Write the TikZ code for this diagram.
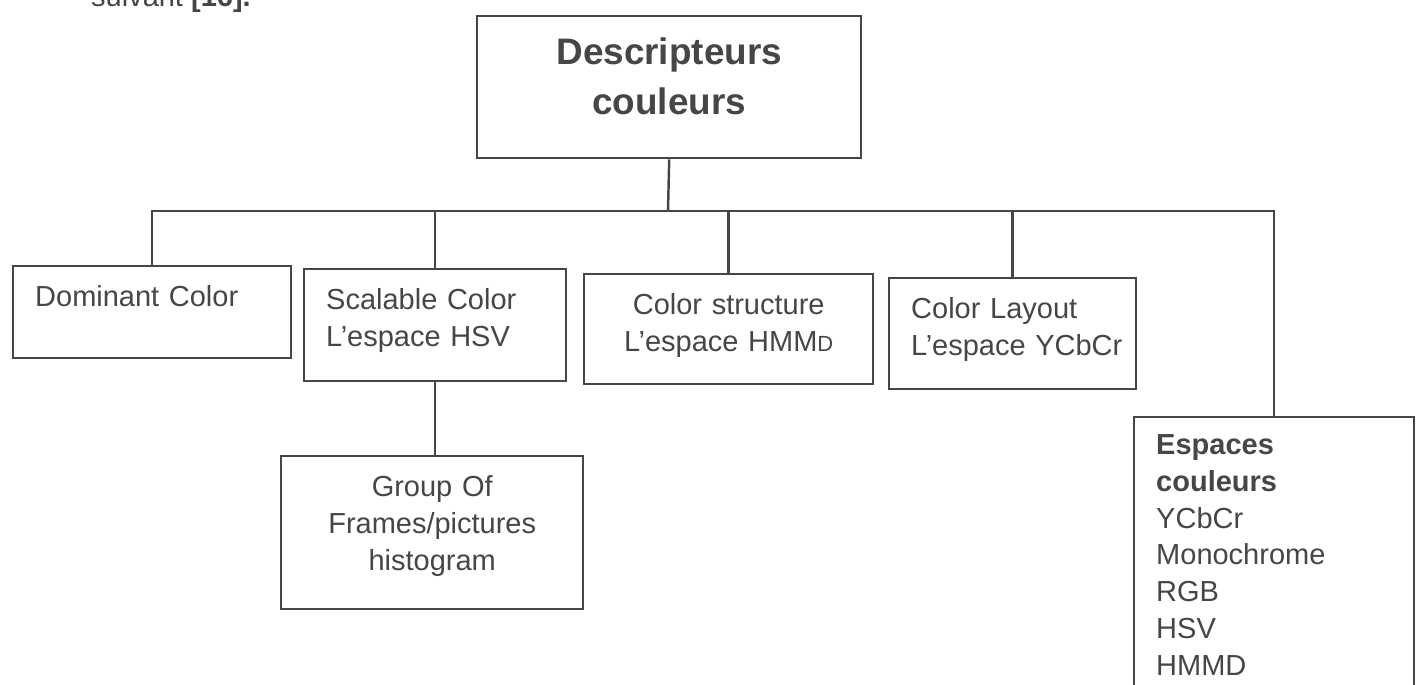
\documentclass[tikz,border=0pt]{standalone}
\usepackage{fontspec}
\setmainfont{Liberation Sans}
\definecolor{ink}{HTML}{464646}

\begin{document}
\begin{tikzpicture}[x=0.02cm,y=-0.02cm,
    every node/.style={text=ink,font=\fontsize{16.5}{21}\selectfont},
    box/.style={draw=ink,line width=1.4pt,anchor=north west,
                inner xsep=0.44cm,inner ysep=0pt,text height=0.8cm},
    wire/.style={draw=ink,line width=1.4pt}]
  \clip (0,0) rectangle (1419,685);
  \node[anchor=base west] (cite) at (85,7) {suivant \textbf{[16].}};

  \node[box,text width=6.8cm,align=center,text height=0.96cm,text depth=1.88cm,
        font=\fontsize{21}{28.5}\selectfont\bfseries] (desc) at (476,15)
        {Descripteurs\\couleurs};
  \node[box,text width=4.68cm,align=left,text depth=1.04cm]  (dom)    at (12,265)  {Dominant Color};
  \node[box,text width=4.36cm,align=left,text depth=1.44cm]  (scal)   at (303,268) {Scalable~Color\\L’espace~HSV};
  \node[box,text width=4.9cm,align=center,text depth=1.40cm] (struct) at (583,273)
        {Color structure\\L’espace HMM{\fontsize{12.5}{21}\selectfont D}};
  \node[box,text width=4.06cm,align=left,text depth=1.42cm]  (lay)    at (888,277) {Color~Layout\\L’espace~YCbCr};
  \node[box,text width=5.16cm,align=center,text depth=2.26cm] (grp)   at (280,455) {Group Of\\Frames/pictures\\histogram};
  \node[box,text width=4.72cm,align=left,text height=0.74cm,text depth=5cm] (esp) at (1133,416)
        {\textbf{Espaces}\\\textbf{couleurs}\\YCbCr\\Monochrome\\RGB\\HSV\\HMMD};

  % tree
  \coordinate (bus) at (668,211);
  \draw[wire] (desc.south) -- (bus);
  \draw[wire] (dom.north) |- (bus) -| (esp.north);
  \foreach \n in {scal,struct,lay}
    \draw[wire] (\n.north) -- (\n.north |- bus);
  \draw[wire] (scal.south) -- (scal.south |- grp.north);
\end{tikzpicture}
\end{document}
